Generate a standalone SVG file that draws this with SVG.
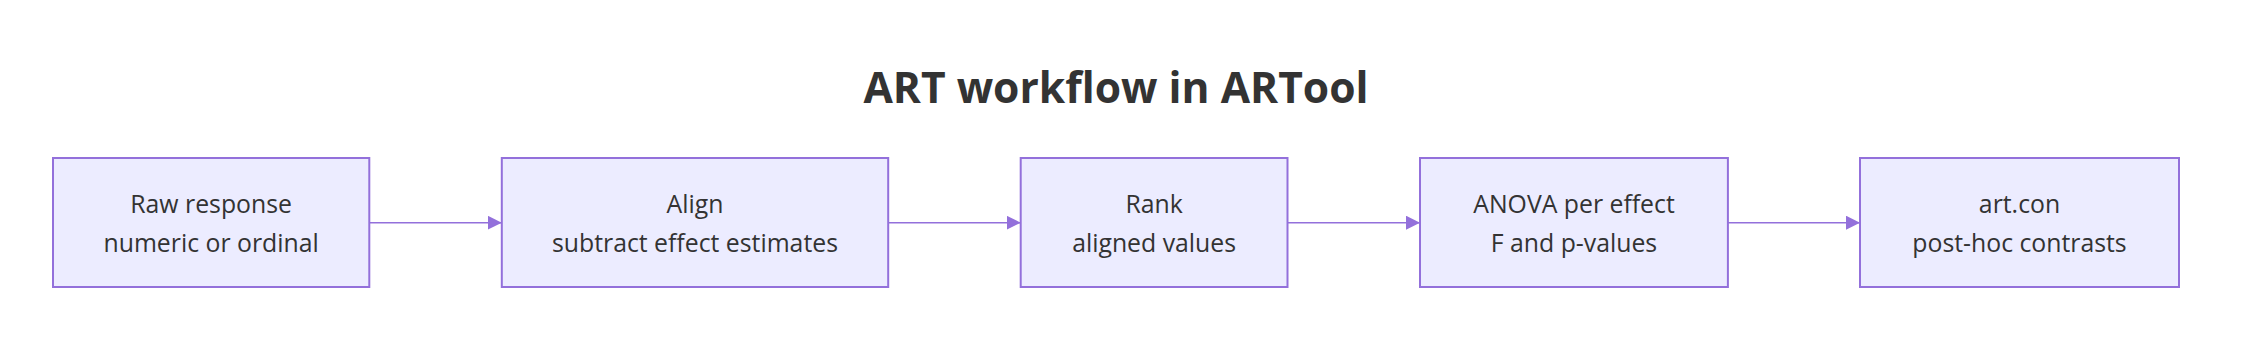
<svg xmlns="http://www.w3.org/2000/svg" width="2248" height="344" viewBox="0 0 2248 344">
<style>
.node rect{fill:#ECECFF;stroke:#9370DB;stroke-width:2}
.node text{font-family:"Open Sans","Noto Sans","Liberation Sans",sans-serif;font-size:24.8px;fill:#333333;text-anchor:middle}
.title{font-family:"Open Sans","Noto Sans","Liberation Sans",sans-serif;font-size:42.6px;font-weight:bold;fill:#333333;text-anchor:middle}
.edge{stroke:#9370DB;stroke-width:1.6;fill:none;marker-end:url(#arrow)}
</style>
<defs>
<marker id="arrow" markerUnits="userSpaceOnUse" markerWidth="14" markerHeight="14" viewBox="0 0 12 12" refX="12" refY="6" orient="auto">
<path d="M0,0 L12,6 L0,12 z" fill="#9370DB"/>
</marker>
</defs>
<rect width="2248" height="344" fill="#ffffff"/>
<text class="title" x="1116" y="102.7">ART workflow in ARTool</text>
<g id="connectors">
<line class="edge" x1="369.3" y1="222.7" x2="501.8" y2="222.7"/>
<line class="edge" x1="888.2" y1="222.7" x2="1020.7" y2="222.7"/>
<line class="edge" x1="1287.5" y1="222.7" x2="1420" y2="222.7"/>
<line class="edge" x1="1727.9" y1="222.7" x2="1860" y2="222.7"/>
</g>
<g id="raw" class="node">
<rect x="53" y="158" width="316.3" height="129"/>
<text x="211.1" y="213.3">Raw response</text>
<text x="211.1" y="252.3">numeric or ordinal</text>
</g>
<g id="align" class="node">
<rect x="501.8" y="158" width="386.4" height="129"/>
<text x="695" y="213.3">Align</text>
<text x="695" y="252.3">subtract effect estimates</text>
</g>
<g id="rank" class="node">
<rect x="1020.7" y="158" width="266.8" height="129"/>
<text x="1154.1" y="213.3">Rank</text>
<text x="1154.1" y="252.3">aligned values</text>
</g>
<g id="anova" class="node">
<rect x="1420" y="158" width="307.9" height="129"/>
<text x="1574" y="213.3">ANOVA per effect</text>
<text x="1574" y="252.3">F and p-values</text>
</g>
<g id="artcon" class="node">
<rect x="1860" y="158" width="319" height="129"/>
<text x="2019.5" y="213.3">art.con</text>
<text x="2019.5" y="252.3">post-hoc contrasts</text>
</g>
</svg>
